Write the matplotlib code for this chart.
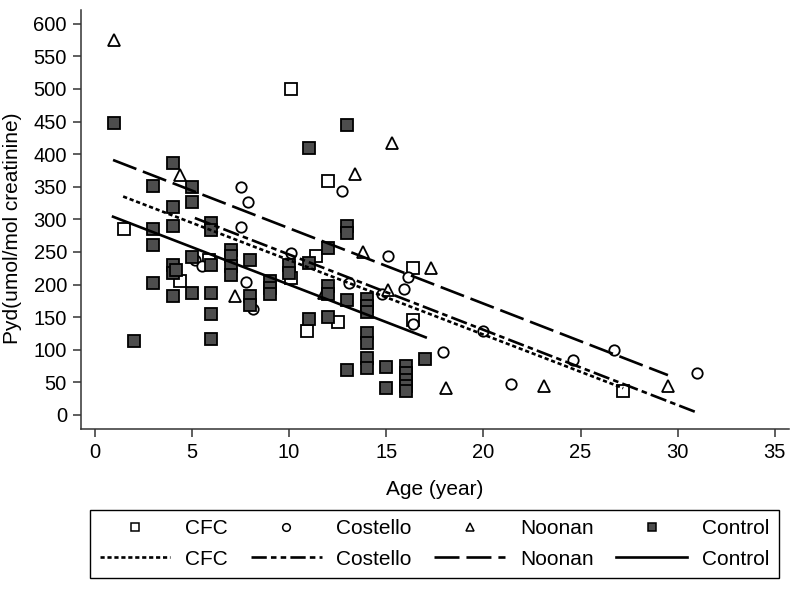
import matplotlib
matplotlib.use("Agg")
import matplotlib.pyplot as plt
from matplotlib.lines import Line2D

plt.rcParams["font.family"] = ["Liberation Sans", "DejaVu Sans"]
plt.rcParams["lines.scale_dashes"] = False

# scatter data: age (year), Pyd (umol/mol creatinine)
cfc_age = [1.5, 4.4, 5.9, 10.1, 10.1, 10.9, 11.4, 12.0, 12.5, 16.4, 16.4, 27.2]
cfc_pyd = [285, 206, 238, 500, 210, 129, 243, 359, 142, 226, 146, 36]

costello_age = [7.5, 7.9, 7.5, 5.15, 5.5, 7.8, 10.1, 8.15, 12.7, 15.1, 16.1,
                15.9, 13.1, 14.8, 16.4, 20.0, 17.9, 26.7, 24.6, 31.0, 21.4]
costello_pyd = [350, 326, 288, 238, 229, 204, 248, 162, 343, 244, 211,
                193, 202, 185, 140, 128, 96, 99, 84, 65, 47]

noonan_age = [1.0, 4.4, 7.2, 11.8, 13.4, 15.3, 13.8, 17.3, 15.1, 18.1, 23.1, 29.5]
noonan_pyd = [575, 368, 182, 187, 369, 417, 250, 226, 192, 42, 44, 44]

control_age = [1, 11, 4, 3, 5, 5, 4, 6, 6, 3, 4, 3, 7, 7, 7, 7, 8, 5, 6, 4, 4, 4.2,
               3, 8, 8, 4, 5, 6, 9, 9, 9, 10, 10, 11, 6, 2, 6, 12, 12, 11, 12,
               13, 13, 13, 12, 13, 14, 14, 14, 14, 14, 14, 14, 13, 15, 15,
               16, 16, 16, 16, 16, 17]
control_pyd = [448, 409, 386, 351, 349, 326, 319, 294, 284, 285, 289, 261, 253, 243, 228, 214,
               237, 242, 230, 230, 217, 222, 202, 182, 169, 182, 187, 187, 206, 195, 185,
               230, 217, 233, 155, 114, 116, 197, 186, 147, 150,
               444, 289, 279, 256, 177, 178, 167, 158, 125, 111, 88, 72, 69, 74, 42,
               75, 64, 54, 44, 36, 86]

# fitted lines, end points
cfc_fit_age = [1.46, 27.2]
cfc_fit_pyd = [335, 41]
costello_fit_age = [5.15, 31.05]
costello_fit_pyd = [302, 3]
noonan_fit_age = [0.94, 29.5]
noonan_fit_pyd = [391, 61]
control_fit_age = [0.94, 17.03]
control_fit_pyd = [304, 119]

DARK = "#4d4d4d"
AXIS = "#333333"

fig = plt.figure(figsize=(8, 5.9), dpi=100)
ax = fig.add_axes([0.101, 0.273, 0.885, 0.71])

mew = 1.3
ax.plot(cfc_age, cfc_pyd, "s", ms=8, mfc="white", mec="black", mew=mew, ls="none")
ax.plot(costello_age, costello_pyd, "o", ms=7.5, mfc="white", mec="black", mew=mew, ls="none")
ax.plot(noonan_age, noonan_pyd, "^", ms=8.5, mfc="white", mec="black", mew=mew, ls="none")
ax.plot(control_age, control_pyd, "s", ms=8, mfc=DARK, mec="black", mew=mew, ls="none")

lw = 1.9
cfc_ls = (0, (3, 2))
costello_ls = (0, (12, 3, 4, 3))
noonan_ls = (0, (18, 5))
ax.plot(cfc_fit_age, cfc_fit_pyd, color="black", lw=lw, ls=cfc_ls)
ax.plot(costello_fit_age, costello_fit_pyd, color="black", lw=lw, ls=costello_ls)
ax.plot(noonan_fit_age, noonan_fit_pyd, color="black", lw=lw, ls=noonan_ls)
ax.plot(control_fit_age, control_fit_pyd, color="black", lw=lw, ls="-")

ax.set_xlim(-0.72, 35.72)
ax.set_ylim(-21.5, 621)
ax.set_xticks(range(0, 36, 5))
ax.set_yticks(range(0, 601, 50))

# only left and bottom axis lines
ax.spines["top"].set_visible(False)
ax.spines["right"].set_visible(False)
for side in ["left", "bottom"]:
    ax.spines[side].set_color(AXIS)
    ax.spines[side].set_linewidth(1.1)
ax.tick_params(length=6, width=1.1, color=AXIS, labelsize=14.5, pad=4)

ax.set_xlabel("Age (year)", fontsize=15, labelpad=13)
ax.set_ylabel("Pyd(umol/mol creatinine)", fontsize=15, labelpad=5)
ax.yaxis.set_label_coords(-0.083, 0.48)

# legend: marker row on top, fitted-line row below
names = ["CFC", "Costello", "Noonan", "Control"]
marker_handles = [
    Line2D([], [], marker="s", ms=6, mfc="white", mec="black", mew=1.1, ls="none"),
    Line2D([], [], marker="o", ms=5.5, mfc="white", mec="black", mew=1.1, ls="none"),
    Line2D([], [], marker="^", ms=6, mfc="white", mec="black", mew=1.1, ls="none"),
    Line2D([], [], marker="s", ms=6, mfc=DARK, mec="black", mew=1.1, ls="none"),
]
line_handles = [
    Line2D([], [], color="black", lw=lw, ls=cfc_ls),
    Line2D([], [], color="black", lw=lw, ls=(0, (11, 3, 4, 3, 4, 3))),
    Line2D([], [], color="black", lw=lw, ls=noonan_ls),
    Line2D([], [], color="black", lw=lw, ls="-"),
]
handles, labels = [], []
for mh, lh, name in zip(marker_handles, line_handles, names):
    handles += [mh, lh]
    labels += [name, name]

leg = fig.legend(handles, labels, ncol=4, loc="center",
                 bbox_to_anchor=(0.543, 0.078), fontsize=15,
                 frameon=True, fancybox=False, edgecolor="black",
                 framealpha=1, handlelength=3.4, handletextpad=0.7,
                 columnspacing=1.1, labelspacing=0.55, borderpad=0.45)
leg.get_frame().set_linewidth(1.0)

fig.savefig("out.png", dpi=100)
